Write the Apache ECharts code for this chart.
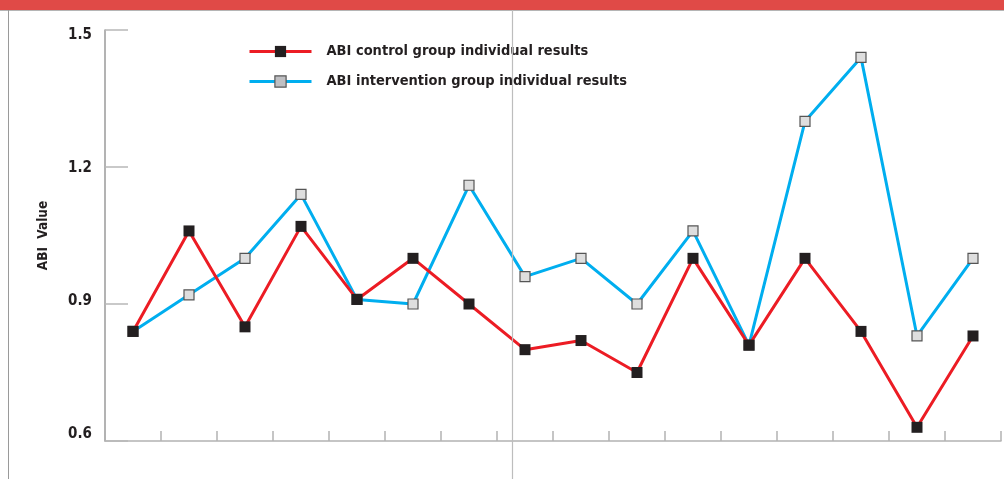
<!DOCTYPE html>
<html>
<head>
<meta charset="utf-8">
<script src="https://cdn.jsdelivr.net/npm/echarts@6/dist/echarts.min.js"></script>
<style>
html,body{margin:0;padding:0;background:#fff;}
#c{width:1004px;height:479px;}
</style>
</head>
<body>
<div id="c"></div>
<script>
var categories = ['1','2','3','4','5','6','7','8','9','10','11','12','13','14','15','16'];
var controlValues = [0.84,1.06,0.85,1.07,0.91,1.0,0.9,0.8,0.82,0.75,1.0,0.81,1.0,0.84,0.63,0.83];
var interventionValues = [0.84,0.92,1.0,1.14,0.91,0.9,1.16,0.96,1.0,0.9,1.06,0.81,1.3,1.44,0.83,1.0];
var seriesNames = ['ABI control group individual results','ABI intervention group individual results'];
var yAxisName = 'ABI  Value';

var FONT = "'DejaVu Sans Condensed','Liberation Sans Narrow',sans-serif";
var labelShift = {'1.5':'a','1.2':'b','0.9':'c','0.6':'d'};
var chart = echarts.init(document.getElementById('c'), null, {renderer:'canvas'});
var lblBase = {fontFamily:FONT,fontSize:15,fontWeight:'bold',color:'#231f20'};
chart.setOption({
  animation:false,
  backgroundColor:'#ffffff',
  graphic:[
    {type:'rect', shape:{x:0,y:0,width:1004,height:10}, style:{fill:'#e04a47'}, z:10},
    {type:'line', shape:{x1:0,y1:10.5,x2:1004,y2:10.5}, style:{stroke:'#b5b5b5',lineWidth:1}, z:10},
    {type:'line', shape:{x1:8.5,y1:10,x2:8.5,y2:479}, style:{stroke:'#9a9a9a',lineWidth:1}, z:10},
    {type:'line', shape:{x1:512.5,y1:10,x2:512.5,y2:479}, style:{stroke:'#bdbdbd',lineWidth:1.2}, z:10}
  ],
  grid:{left:105,right:3,top:30,bottom:38,containLabel:false},
  legend:{
    orient:'vertical', left:248, top:44, padding:0, itemGap:15,
    itemWidth:62, itemHeight:14,
    lineStyle:{width:3},
    textStyle:{fontFamily:FONT,fontSize:14.5,fontWeight:'bold',color:'#231f20',padding:[0,0,0,10]},
    data:[
      {name:seriesNames[0]},
      {name:seriesNames[1], itemStyle:{color:'#bfbfc2',borderColor:'#555555',borderWidth:1.2}}
    ]
  },
  xAxis:{
    type:'category', data:categories, boundaryGap:true,
    axisLine:{lineStyle:{color:'#b3b3b3',width:1.5}},
    axisTick:{show:true,interval:0,inside:true,length:10,alignWithLabel:false,lineStyle:{color:'#b3b3b3',width:1.5}},
    axisLabel:{show:false,interval:0},
    splitLine:{show:false}
  },
  yAxis:{
    type:'value', min:0.6, max:1.5, interval:0.3,
    name:yAxisName, nameLocation:'middle', nameGap:55, nameRotate:90,
    nameTextStyle:{fontFamily:FONT,fontSize:13.5,fontWeight:'bold',color:'#231f20'},
    axisLine:{show:true,lineStyle:{color:'#9a9a9a',width:1.5}},
    axisTick:{show:true,inside:true,length:23,lineStyle:{color:'#b8b8b8',width:1.5}},
    axisLabel:{margin:13,
      formatter:function(v){var s=v.toFixed(1);return '{'+(labelShift[s]||'d')+'|'+s+'}';},
      rich:{
        a:Object.assign({padding:[10,0,0,0]},lblBase),
        b:Object.assign({padding:[2,0,0,0]},lblBase),
        c:Object.assign({padding:[0,0,5,0]},lblBase),
        d:Object.assign({padding:[0,0,13,0]},lblBase)
      }
    },
    splitLine:{show:false}
  },
  series:[
    {name:seriesNames[0], type:'line', data:controlValues,
     symbol:'rect', symbolSize:11, showAllSymbol:true,
     lineStyle:{color:'#ec1c24',width:3},
     itemStyle:{color:'#231f20',borderColor:'#231f20',borderWidth:0},
     z:3},
    {name:seriesNames[1], type:'line', data:interventionValues,
     symbol:'rect', symbolSize:10, showAllSymbol:true,
     lineStyle:{color:'#00aeef',width:3},
     itemStyle:{color:'#dedede',borderColor:'#555555',borderWidth:1.2},
     z:2}
  ]
});
</script>
</body>
</html>
